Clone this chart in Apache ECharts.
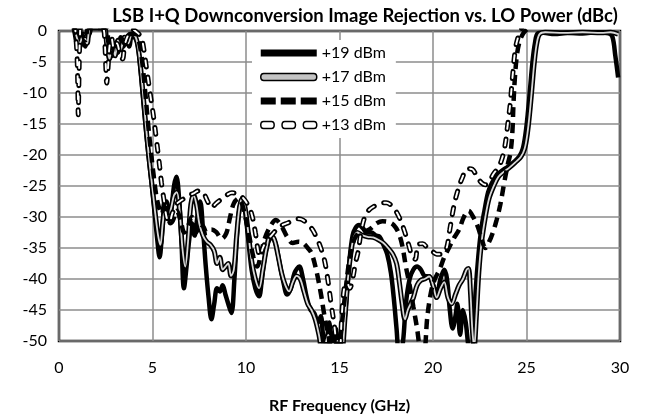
<!DOCTYPE html>
<html>
<head>
<meta charset="utf-8">
<style>
  html, body { margin: 0; padding: 0; background: #fff; }
  #chart { width: 645px; height: 420px; }
</style>
<script src="https://cdn.jsdelivr.net/npm/echarts@6/dist/echarts.min.js"></script>
</head>
<body>
<div id="chart"></div>
<script>
// image rejection (dBc) vs RF frequency (GHz), one array per LO power
var seriesNames = ['+19 dBm', '+17 dBm', '+15 dBm', '+13 dBm'];

var p19 = [
  [0.75,1],[0.85,-0.5],[0.95,-2],[1.05,-0.5],[1.15,-2.5],[1.25,-1],[1.4,-2.5],[1.55,-1],[1.65,-0.3],[1.8,1],
  [2.3,1],[2.5,-0.5],[2.6,-3],[2.7,-1.5],[2.85,-4],[3.0,-2],[3.15,-3.5],[3.3,-1],[3.45,-2.5],[3.6,-1.5],
  [3.75,-2.5],[3.9,-0.5],[4.05,-1],[4.2,-2],[4.35,-6],[4.5,-11],[4.65,-16],[4.8,-20.5],[4.95,-24.5],[5.1,-29],
  [5.25,-33.5],[5.38,-36.5],[5.5,-33],[5.62,-28.5],[5.75,-27.5],[5.88,-30.5],[6.0,-29],[6.15,-25],[6.28,-23.5],[6.42,-27],
  [6.55,-34],[6.68,-41.5],[6.82,-38],[6.95,-34],[7.1,-31],[7.25,-33],[7.4,-30],[7.55,-27.5],[7.7,-32],[7.85,-38],
  [8.0,-43],[8.15,-46.5],[8.3,-44],[8.45,-41.5],[8.6,-42],[8.75,-41],[8.9,-42.5],[9.05,-44],[9.22,-45.5],[9.38,-40],
  [9.52,-33],[9.66,-28.5],[9.8,-27.3],[9.95,-29],[10.1,-33],[10.3,-38.5],[10.5,-41.5],[10.7,-42.8],[10.85,-40],[11.0,-36.5],
  [11.2,-34],[11.4,-33.2],[11.6,-34.5],[11.8,-37.5],[12.0,-40.5],[12.2,-42.5],[12.4,-41.5],[12.6,-39],[12.85,-38],[13.05,-40],
  [13.25,-43],[13.45,-45],[13.65,-45.5],[13.85,-47],[14.0,-46],[14.1,-48.5],[14.25,-52],[14.45,-47],[14.6,-51],[14.8,-48],
  [14.95,-52],[15.1,-49],[15.25,-47],[15.4,-42],[15.55,-36.5],[15.7,-33],[15.85,-31.8],[16.05,-31.3],[16.25,-31.8],[16.45,-32.5],
  [16.7,-32.5],[16.95,-33],[17.15,-33.2],[17.35,-34.5],[17.55,-36],[17.75,-39],[17.9,-43],[18.05,-48],[18.2,-53],[18.4,-50],
  [18.55,-44],[18.75,-40],[18.95,-38.5],[19.15,-38],[19.35,-38.5],[19.55,-39.5],[19.8,-39.6],[20.0,-41],[20.2,-42.3],[20.4,-40],
  [20.6,-38.5],[20.75,-40],[20.9,-45],[21.05,-48],[21.2,-46],[21.3,-44],[21.45,-49],[21.6,-45],[21.75,-47],[21.9,-51],
  [22.05,-53],[22.15,-49],[22.28,-42],[22.42,-36.5],[22.58,-32],[22.75,-29],[22.95,-26],[23.15,-24.5],[23.4,-23.3],[23.7,-22.5],
  [24.0,-21.9],[24.3,-21.2],[24.6,-20.3],[24.8,-19],[24.95,-16.5],[25.08,-13],[25.2,-9],[25.32,-5],[25.45,-2],[25.6,-0.4],
  [25.9,-0.3],[26.5,-0.5],[27.2,-0.3],[28.0,-0.4],[28.8,-0.2],[29.4,-0.4],[29.6,-1],[29.75,-4],[29.9,-7.5]
];

var p17 = [
  [0.8,1],[0.95,-1],[1.1,-2],[1.3,-0.5],[1.5,-2],[1.7,0.5],[2.4,0.5],[2.55,-2],[2.7,-4.5],[2.85,-2],
  [3.0,-4],[3.15,-1.5],[3.3,-3],[3.5,-1],[3.7,-2],[3.9,-0.5],[4.1,-1],[4.25,-3],[4.4,-7],[4.55,-12],
  [4.7,-17],[4.85,-21.5],[5.0,-25.5],[5.15,-29.5],[5.3,-33],[5.42,-34.5],[5.55,-31],[5.7,-28],[5.85,-30],[6.0,-28.5],
  [6.15,-26.5],[6.3,-26],[6.45,-29],[6.6,-35],[6.75,-38],[6.9,-34],[7.05,-28],[7.2,-26.5],[7.35,-28],[7.5,-31],
  [7.7,-33],[7.9,-34],[8.1,-34.5],[8.3,-35.5],[8.45,-37.5],[8.6,-36.5],[8.75,-38.5],[8.9,-38],[9.05,-37.5],[9.2,-39.5],
  [9.35,-38.5],[9.5,-33],[9.65,-28.5],[9.8,-27],[9.95,-28.5],[10.1,-32],[10.3,-37],[10.5,-40],[10.7,-41.5],[10.9,-38.5],
  [11.1,-35],[11.3,-33],[11.5,-33.5],[11.7,-36],[11.9,-39],[12.1,-41],[12.3,-42],[12.5,-40.5],[12.7,-39.5],[12.9,-40],
  [13.1,-42],[13.3,-44],[13.5,-45],[13.7,-46.5],[13.9,-49],[14.1,-52],[14.4,-49],[14.6,-53],[14.9,-50],[15.1,-52],
  [15.3,-46],[15.45,-40],[15.6,-36],[15.75,-33.5],[15.95,-32.5],[16.2,-32.9],[16.5,-33.2],[16.8,-33.3],[17.1,-33.7],[17.35,-34.2],
  [17.6,-35],[17.85,-36],[18.05,-37.5],[18.2,-40.5],[18.35,-44],[18.5,-46.5],[18.65,-45],[18.8,-44],[18.95,-43],[19.15,-41],
  [19.35,-40.2],[19.55,-40],[19.8,-39.6],[20.0,-41],[20.2,-43],[20.4,-41.5],[20.6,-40.5],[20.8,-43],[21.0,-44],[21.2,-42.5],
  [21.4,-41],[21.6,-40],[21.8,-38.5],[21.9,-38.3],[22.0,-42],[22.1,-48],[22.2,-51],[22.32,-46],[22.45,-39],[22.6,-34],
  [22.8,-30],[23.0,-27],[23.25,-25],[23.5,-23.5],[23.8,-22.7],[24.1,-22],[24.4,-21.2],[24.7,-20.3],[24.9,-19],[25.05,-16.5],
  [25.18,-13],[25.3,-9],[25.42,-5],[25.55,-2],[25.7,-0.5],[26.0,-0.2],[27.0,-0.3],[28.0,-0.2],[29.0,-0.3],[29.5,-0.2],[29.9,-0.5]
];

var p15 = [
  [0.8,1],[1.0,-1],[1.2,-0.5],[1.4,-1.5],[1.6,0.5],[2.5,0.5],[2.65,-2],[2.8,-3.5],[2.95,-1.5],[3.1,-2.5],
  [3.3,-1],[3.5,-2],[3.8,-0.5],[4.1,-0.5],[4.3,-2],[4.45,-5],[4.6,-9.5],[4.75,-14.5],[4.9,-19],[5.05,-23],
  [5.2,-26.5],[5.35,-28.5],[5.5,-29.5],[5.65,-27.5],[5.8,-29.5],[5.95,-31],[6.1,-30.5],[6.3,-29],[6.5,-30.5],[6.7,-32.5],
  [6.9,-31.5],[7.1,-30],[7.3,-31.5],[7.5,-32.5],[7.7,-31.5],[7.9,-32.6],[8.15,-32],[8.4,-32.4],[8.7,-33.5],[8.95,-32.6],
  [9.15,-30],[9.35,-27.8],[9.6,-27],[9.8,-28],[10.0,-30.5],[10.2,-33.5],[10.4,-36.5],[10.6,-38],[10.8,-36],[11.0,-33.5],
  [11.3,-31.5],[11.6,-30.5],[11.9,-31.5],[12.2,-33.2],[12.5,-34.2],[12.8,-34],[13.05,-34.2],[13.3,-35],[13.5,-35.8],[13.75,-38.5],
  [14.0,-42.3],[14.2,-46],[14.4,-49],[14.6,-52],[14.9,-53],[15.1,-48],[15.3,-42.5],[15.5,-37.5],[15.7,-34.5],[15.9,-33],
  [16.2,-32.5],[16.6,-32],[17.0,-31],[17.3,-30.7],[17.6,-30.8],[17.9,-31.3],[18.15,-32.5],[18.35,-34.5],[18.55,-38],[18.75,-41],
  [18.95,-44.5],[19.15,-48],[19.3,-51],[19.5,-52],[19.7,-46],[19.9,-42],[20.1,-40],[20.35,-38.5],[20.6,-36.5],[20.85,-35],
  [21.1,-33.5],[21.4,-32],[21.65,-30],[21.9,-29],[22.15,-30],[22.4,-31.6],[22.6,-33.5],[22.8,-35],[23.0,-34],[23.2,-32.5],
  [23.4,-30.5],[23.6,-28],[23.8,-24.6],[24.0,-21.5],[24.15,-19.5],[24.25,-16],[24.3,-12],[24.38,-7.5],[24.5,-3.6],[24.65,-1.5],
  [24.85,-0.3],[25.1,0.5]
];

var p13 = [
  [0.85,1],[0.95,-3],[1.0,-8],[1.03,-13.5],[1.07,-7],[1.12,-1],[1.2,1],[2.35,0.5],[2.45,-2],[2.5,-5.5],
  [2.55,-8.4],[2.62,-6],[2.7,-2.5],[2.8,-1],[2.95,-3],[3.1,-2],[3.25,-3.5],[3.4,-4.5],[3.5,-2.5],[3.65,-1],
  [3.9,0.3],[4.2,-0.3],[4.4,-1],[4.5,-2.3],[4.68,-6],[4.86,-9.8],[5.04,-13.5],[5.2,-17.3],[5.35,-21],[5.48,-24.5],
  [5.6,-27],[5.75,-30],[5.9,-31],[6.05,-29.5],[6.25,-28],[6.45,-27.5],[6.7,-27],[6.95,-26.5],[7.2,-26.2],[7.45,-25.8],
  [7.7,-26],[7.95,-27.5],[8.15,-28.5],[8.4,-27.8],[8.65,-27.2],[8.95,-26.5],[9.25,-26.1],[9.55,-26.3],[9.8,-26.8],[10.05,-27.8],
  [10.3,-29.5],[10.5,-32.5],[10.65,-35.5],[10.75,-36.4],[10.9,-35],[11.1,-33.8],[11.35,-33],[11.65,-32],[11.95,-31.3],[12.2,-31],
  [12.5,-30.6],[12.8,-30.3],[13.05,-30.5],[13.3,-31.2],[13.55,-32],[13.8,-33.5],[14.0,-35],[14.2,-37],[14.38,-40.2],[14.55,-44],
  [14.7,-47],[14.85,-50.5],[15.0,-52],[15.12,-46],[15.25,-41.5],[15.4,-40.5],[15.55,-41.5],[15.7,-40],[15.85,-37.5],[16.0,-35.5],
  [16.15,-32.5],[16.35,-30],[16.6,-28.8],[16.9,-28.2],[17.2,-27.8],[17.5,-27.7],[17.8,-28.2],[18.05,-29.2],[18.3,-30.8],[18.5,-32.5],
  [18.7,-34.5],[18.9,-36.5],[19.05,-36.8],[19.2,-34.5],[19.45,-34.3],[19.7,-35],[19.95,-35.5],[20.2,-36],[20.45,-36],[20.7,-35.3],
  [20.9,-32],[21.1,-28.5],[21.3,-26],[21.55,-23.8],[21.85,-22.2],[22.1,-22.3],[22.35,-23.5],[22.6,-24.5],[22.8,-24.8],[23.0,-24.3],
  [23.25,-23],[23.5,-22],[23.7,-20.5],[23.85,-18.5],[24.0,-15],[24.12,-12],[24.25,-7.5],[24.4,-3],[24.55,-1],[24.75,0.5]
];

var xMin = 0, xMax = 30, xStep = 5;
var yMin = -50, yMax = 0, yStep = 5;

var font = 'Lato';

function lineSeries(name, data, style) {
    return {
        name: name,
        type: 'line',
        data: data,
        symbol: 'none',
        smooth: 0.35,
        clip: true,
        lineStyle: style
    };
}

var myChart = echarts.init(document.getElementById('chart'));

var option = {
    animation: false,
    title: {
        text: 'LSB I+Q Downconversion Image Rejection vs. LO Power (dBc)',
        left: 360,
        textAlign: 'center',
        top: 2,
        textStyle: { fontFamily: font, fontSize: 18.5, fontWeight: 'bold', color: '#000' }
    },
    grid: {
        left: 59, right: 25, top: 31, bottom: 79,
        show: true, borderColor: '#000', borderWidth: 2.5
    },
    legend: {
        orient: 'vertical',
        left: 252, top: 40,
        backgroundColor: '#fff',
        padding: [5, 10, 5, 8],
        itemGap: 8,
        itemWidth: 56, itemHeight: 7,
        symbolKeepAspect: false,
        textStyle: { fontFamily: font, fontSize: 16, color: '#000' },
        data: [
            { name: seriesNames[0], icon: 'rect', itemStyle: { color: '#000', borderWidth: 0 } },
            { name: seriesNames[1], icon: 'path://M3,0L53,0A3,3 0 0 1 53,6L3,6A3,3 0 0 1 3,0Z',
              itemStyle: { color: '#c4c4c4', borderColor: '#000', borderWidth: 1.5 } },
            { name: seriesNames[2], icon: 'path://M0,0h15v6h-15zM20,0h15v6h-15zM40,0h16v6h-16z',
              itemStyle: { color: '#000', borderWidth: 0 } },
            { name: seriesNames[3], icon: 'path://M5,1h7a2.5,2.5 0 0 1 0,5h-7a2.5,2.5 0 0 1 0,-5zM24,1h7a2.5,2.5 0 0 1 0,5h-7a2.5,2.5 0 0 1 0,-5zM43,1h7a2.5,2.5 0 0 1 0,5h-7a2.5,2.5 0 0 1 0,-5z',
              itemStyle: { color: '#fff', borderColor: '#000', borderWidth: 1.5 } }
        ]
    },
    xAxis: {
        type: 'value', min: xMin, max: xMax, interval: xStep,
        name: 'RF Frequency (GHz)', nameLocation: 'middle', nameGap: 57,
        nameTextStyle: { fontFamily: font, fontSize: 16, fontWeight: 'bold', color: '#000' },
        axisLine: { show: false }, axisTick: { show: false },
        axisLabel: { fontFamily: font, fontSize: 16, color: '#000', margin: 19 },
        splitLine: { lineStyle: { color: '#8c8c8c', width: 1.5 } }
    },
    yAxis: {
        type: 'value', min: yMin, max: yMax, interval: yStep,
        axisLine: { show: false }, axisTick: { show: false },
        axisLabel: { fontFamily: font, fontSize: 16, color: '#000', margin: 12 },
        splitLine: { lineStyle: { color: '#8c8c8c', width: 1.5 } }
    },
    series: [
        lineSeries(seriesNames[0], p19, { color: '#000', width: 4.5 }),
        lineSeries(seriesNames[1], p17, { color: '#000', width: 5 }),
        lineSeries('p17 inner', p17, { color: '#d8d8d8', width: 1.8 }),
        lineSeries(seriesNames[2], p15, { color: '#000', width: 4.5, type: [10, 6] }),
        lineSeries(seriesNames[3], p13, { color: '#000', width: 5, type: [7, 10], cap: 'round' }),
        lineSeries('p13 inner', p13, { color: '#fff', width: 1.9, type: [6, 11], dashOffset: -0.5, cap: 'round' })
    ]
};

myChart.setOption(option);
</script>
</body>
</html>
